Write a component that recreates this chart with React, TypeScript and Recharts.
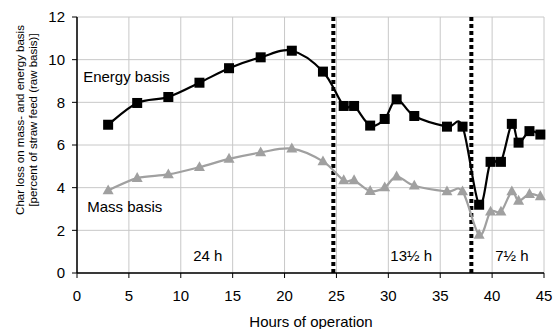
import React from "react";
import { LineChart, Line, XAxis, YAxis, CartesianGrid, ReferenceLine, ReferenceDot } from "recharts";

const hours = [3, 5.8, 8.8, 11.8, 14.65, 17.7, 20.7, 23.7, 25.7, 26.7, 28.25, 29.65, 30.8, 32.5, 35.65, 37.15, 38.75, 39.85, 40.85, 41.9, 42.55, 43.6, 44.65];
const energyBasis = [6.95, 7.97, 8.25, 8.92, 9.6, 10.11, 10.42, 9.44, 7.83, 7.83, 6.91, 7.22, 8.14, 7.36, 6.86, 6.86, 3.2, 5.21, 5.21, 6.99, 6.11, 6.65, 6.49];
const massBasis = [3.87, 4.45, 4.62, 4.96, 5.35, 5.65, 5.83, 5.23, 4.34, 4.34, 3.84, 4.01, 4.52, 4.09, 3.82, 3.82, 1.79, 2.87, 2.87, 3.82, 3.38, 3.7, 3.59];
const xTicks = [0, 5, 10, 15, 20, 25, 30, 35, 40, 45];
const yTicks = [0, 2, 4, 6, 8, 10, 12];
const periodBoundaries = [24.7, 38];
const periodLabels = [
  { x: 12.6, y: 0.81, text: "24 h" },
  { x: 32.2, y: 0.81, text: "13\u00bd h" },
  { x: 41.9, y: 0.81, text: "7\u00bd h" },
];
const seriesLabels = [
  { x: 4.77, y: 9.19, text: "Energy basis" },
  { x: 4.6, y: 3.1, text: "Mass basis" },
];

const data = hours.map((h, i) => ({ h, energy: energyBasis[i], mass: massBasis[i] }));

const FONT = "'Liberation Sans', Arial, sans-serif";
const GRAY = "#a0a0a0";

const catmullRom = (context: any) => {
  let pts: number[][] = [];
  return {
    areaStart() {},
    areaEnd() {},
    lineStart() {
      pts = [];
    },
    point(x: number, y: number) {
      pts.push([+x, +y]);
    },
    lineEnd() {
      const n = pts.length;
      if (!n) return;
      context.moveTo(pts[0][0], pts[0][1]);
      for (let i = 0; i < n - 1; i++) {
        const p0 = pts[i - 1] || pts[i];
        const p1 = pts[i];
        const p2 = pts[i + 1];
        const p3 = pts[i + 2] || p2;
        context.bezierCurveTo(
          p1[0] + (p2[0] - p0[0]) / 6,
          p1[1] + (p2[1] - p0[1]) / 6,
          p2[0] - (p3[0] - p1[0]) / 6,
          p2[1] - (p3[1] - p1[1]) / 6,
          p2[0],
          p2[1]
        );
      }
    },
  };
};

const SquareDot = (props: any) => {
  const { cx, cy, index } = props;
  if (cx == null || cy == null) return null;
  return <rect key={`sq-${index}`} x={cx - 5} y={cy - 5} width={10} height={10} fill="#000" />;
};

const TriangleDot = (props: any) => {
  const { cx, cy, index } = props;
  if (cx == null || cy == null) return null;
  const s = 5.5;
  return (
    <polygon
      key={`tr-${index}`}
      points={`${cx},${cy - s * 1.1} ${cx + s},${cy + s * 0.7} ${cx - s},${cy + s * 0.7}`}
      fill={GRAY}
    />
  );
};

const textLabel = (text: string) => (props: any) => {
  const vb = props.viewBox || {};
  const cx = vb.cx != null ? vb.cx : vb.x + (vb.width || 0) / 2;
  const cy = vb.cy != null ? vb.cy : vb.y + (vb.height || 0) / 2;
  return (
    <text x={cx} y={cy} textAnchor="middle" dominantBaseline="central" fontFamily={FONT} fontSize={15} fill="#000">
      {text}
    </text>
  );
};

const YLabel = () => (
  <g>
    <text transform="translate(19.5,120) rotate(-90)" textAnchor="middle" dominantBaseline="central" fontFamily={FONT} fontSize={11.5} fill="#000">
      Char loss on mass- and energy basis
    </text>
    <text transform="translate(33,120) rotate(-90)" textAnchor="middle" dominantBaseline="central" fontFamily={FONT} fontSize={11.5} fill="#000">
      [percent of straw feed (raw basis)]
    </text>
  </g>
);

const XLabel = () => (
  <text x={311} y={327} textAnchor="middle" fontFamily={FONT} fontSize={15} fill="#000">
    Hours of operation
  </text>
);

export default function App() {
  return (
    <div style={{ width: 554, height: 329 }}>
      <style>{"body{margin:0}"}</style>
      <LineChart width={554} height={329} data={data} margin={{ top: 17, right: 10, bottom: 0, left: 0 }}>
        <CartesianGrid stroke="#c8c8c8" strokeWidth={1} />
        <XAxis
          dataKey="h"
          type="number"
          domain={[0, 45]}
          ticks={xTicks}
          interval={0}
          height={56}
          tickSize={5}
          tickMargin={12}
          stroke="#000"
          axisLine={{ stroke: "#000", strokeWidth: 1.5 }}
          tickLine={{ stroke: "#000" }}
          tick={{ fill: "#000", fontFamily: FONT, fontSize: 15 }}
          label={{ content: XLabel }}
        />
        <YAxis
          type="number"
          domain={[0, 12]}
          ticks={yTicks}
          interval={0}
          width={77}
          tickSize={5}
          tickMargin={7}
          stroke="#000"
          axisLine={{ stroke: "#000", strokeWidth: 1.5 }}
          tickLine={{ stroke: "#000" }}
          tick={{ fill: "#000", fontFamily: FONT, fontSize: 15 }}
          label={{ content: YLabel }}
        />
        {periodBoundaries.map((x) => (
          <ReferenceLine key={`b-${x}`} x={x} stroke="#000" strokeWidth={4} strokeDasharray="4 3" />
        ))}
        <Line
          dataKey="mass"
          type={catmullRom as any}
          stroke={GRAY}
          strokeWidth={2.2}
          dot={TriangleDot}
          activeDot={false}
          isAnimationActive={false}
        />
        <Line
          dataKey="energy"
          type={catmullRom as any}
          stroke="#000"
          strokeWidth={2.2}
          dot={SquareDot}
          activeDot={false}
          isAnimationActive={false}
        />
        {[...periodLabels, ...seriesLabels].map((l) => (
          <ReferenceDot
            key={l.text}
            x={l.x}
            y={l.y}
            r={0}
            fill="none"
            stroke="none"
            ifOverflow="visible"
            label={{ content: textLabel(l.text) }}
          />
        ))}
      </LineChart>
    </div>
  );
}
